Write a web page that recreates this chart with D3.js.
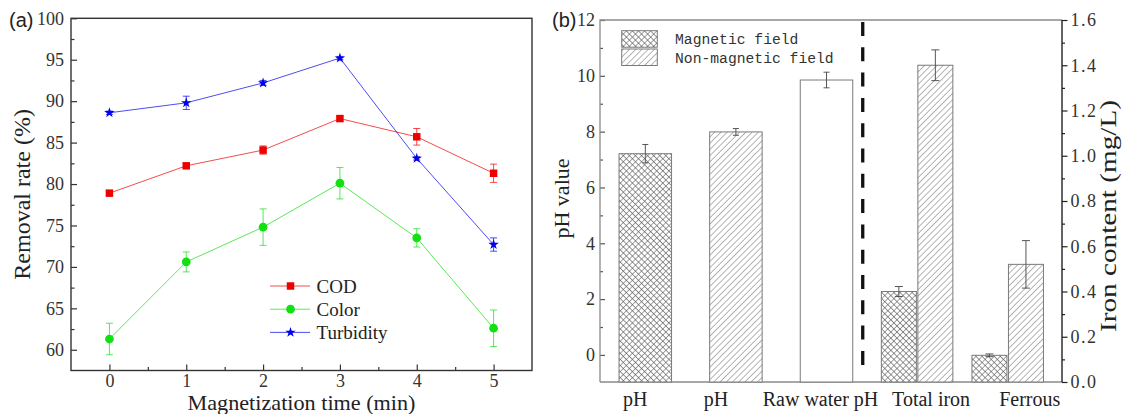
<!DOCTYPE html>
<html><head><meta charset="utf-8">
<script src="https://cdn.jsdelivr.net/npm/d3@7"></script>
<style>body{margin:0;background:#fff}svg{display:block}</style>
</head><body>
<svg id="c" width="1129" height="414"></svg>
<script>
// ---------- Panel (a) data ----------
const times = [0, 1, 2, 3, 4, 5];
const codValues = [78.9, 82.2, 84.1, 87.9, 85.7, 81.3];
const codErrors = [0.3, 0.3, 0.5, 0.3, 1.0, 1.1];
const colorValues = [61.3, 70.6, 74.8, 80.1, 73.5, 62.6];
const colorErrors = [1.9, 1.2, 2.2, 1.9, 1.1, 2.2];
const turbValues = [88.6, 89.8, 92.2, 95.2, 83.1, 72.7];
const turbErrors = [0.2, 0.8, 0.3, 0.2, 0.2, 0.8];
const seriesNames = ["COD", "Color", "Turbidity"];
const yTicksA = [60, 65, 70, 75, 80, 85, 90, 95, 100];
const xTicksA = [0, 1, 2, 3, 4, 5];

// ---------- Panel (b) data ----------
const groupKeys = ["pH_mag", "pH_non", "raw", "iron", "ferrous"];
const groupLabels = ["pH", "pH", "Raw water pH", "Total iron", "Ferrous"];
const phConditions = ["magnetic", "non", "raw"];
const phValues = [7.21, 7.99, 9.85];
const phErrors = [0.33, 0.12, 0.28];
const ironLabels = ["iron", "ferrous"];
const ironMagnetic = [0.40, 0.118];
const ironMagneticErr = [0.022, 0.006];
const ironNonMagnetic = [1.40, 0.52];
const ironNonMagneticErr = [0.068, 0.105];
const legendB = ["Magnetic field", "Non-magnetic field"];
const yTicksBLeft = [0, 2, 4, 6, 8, 10, 12];
const yTicksBRight = [0, 0.2, 0.4, 0.6, 0.8, 1.0, 1.2, 1.4, 1.6];

const svg = d3.select("#c");
const serif = "'Liberation Serif','Times New Roman',serif";

// ================= Panel (a) =================
const A = {l: 71, r: 532, t: 18.3, b: 370.5};
const xA = d3.scaleLinear().domain([-0.5, 5.5]).range([A.l, A.r]);
const yA = d3.scaleLinear().domain([57.5, 100]).range([A.b, A.t]);
const gA = svg.append("g");

function styleAxis(g, color, fs) {
  g.select(".domain").remove();
  g.selectAll(".tick line").attr("stroke", color).attr("stroke-width", 1.2);
  g.selectAll(".tick text").attr("font-family", serif).attr("font-size", fs).attr("fill", "#333");
}

// minor ticks
gA.append("g").attr("transform", `translate(0,${A.b})`)
  .call(d3.axisBottom(xA).tickValues([0.5, 1.5, 2.5, 3.5, 4.5]).tickSize(-3.5).tickFormat(""))
  .call(g => styleAxis(g, "#333", 18));
gA.append("g").attr("transform", `translate(${A.l},0)`)
  .call(d3.axisLeft(yA).tickValues(d3.range(62.5, 100, 5)).tickSize(-3.5).tickFormat(""))
  .call(g => styleAxis(g, "#333", 18));
// major ticks
gA.append("g").attr("transform", `translate(0,${A.b})`)
  .call(d3.axisBottom(xA).tickValues(xTicksA).tickSize(-6).tickPadding(3.7).tickFormat(d3.format("d")))
  .call(g => styleAxis(g, "#333", 18));
gA.append("g").attr("transform", `translate(${A.l},0)`)
  .call(d3.axisLeft(yA).tickValues(yTicksA).tickSize(-6).tickPadding(7).tickFormat(d3.format("d")))
  .call(g => styleAxis(g, "#333", 18));
gA.append("rect").attr("x", A.l).attr("y", A.t).attr("width", A.r - A.l).attr("height", A.b - A.t)
  .attr("fill", "none").attr("stroke", "#333").attr("stroke-width", 1.4);

const seriesA = [
  {name: seriesNames[0], vals: codValues, errs: codErrors, color: "#ee0000", sym: d3.symbolSquare, size: 56},
  {name: seriesNames[1], vals: colorValues, errs: colorErrors, color: "#11e011", sym: d3.symbolCircle, size: 60},
  {name: seriesNames[2], vals: turbValues, errs: turbErrors, color: "#0000ee", sym: d3.symbolStar, size: 34}
];
const line = d3.line().x(d => xA(d.t)).y(d => yA(d.v));
seriesA.forEach(s => {
  const pts = times.map((t, i) => ({t, v: s.vals[i], e: s.errs[i]}));
  const g = gA.append("g");
  g.append("path").datum(pts).attr("d", line).attr("fill", "none").attr("stroke", s.color).attr("stroke-width", 1).attr("stroke-opacity", 0.7);
  pts.forEach(p => {
    const x = xA(p.t), y1 = yA(p.v + p.e), y2 = yA(p.v - p.e);
    g.append("path").attr("d", `M${x},${y1}V${y2}M${x-3.5},${y1}H${x+3.5}M${x-3.5},${y2}H${x+3.5}`)
      .attr("stroke", s.color).attr("stroke-width", 1).attr("stroke-opacity", 0.7).attr("fill", "none");
  });
  g.selectAll(".m").data(pts).join("path")
    .attr("transform", d => `translate(${xA(d.t)},${yA(d.v)})`)
    .attr("d", d3.symbol().type(s.sym).size(s.size)).attr("fill", s.color);
});

// legend (a)
seriesA.forEach((s, i) => {
  const y = 286 + i * 23.2;
  gA.append("line").attr("x1", 270).attr("x2", 310).attr("y1", y).attr("y2", y)
    .attr("stroke", s.color).attr("stroke-width", 1).attr("stroke-opacity", 0.7);
  gA.append("path").attr("transform", `translate(290.5,${y})`).attr("d", d3.symbol().type(s.sym).size(s.size)).attr("fill", s.color);
  gA.append("text").attr("x", 316.5).attr("y", y + 6.5).text(s.name)
    .attr("font-family", serif).attr("font-size", 19).attr("fill", "#222");
});

gA.append("text").attr("transform", `translate(30,${(A.t + A.b) / 2}) rotate(-90)`).attr("text-anchor", "middle")
  .attr("font-family", serif).attr("font-size", 24).attr("fill", "#222").text("Removal rate (%)");
gA.append("text").attr("x", (A.l + A.r) / 2).attr("y", 409.6).attr("text-anchor", "middle")
  .attr("font-family", serif).attr("font-size", 20.3).attr("textLength", 228).attr("lengthAdjust", "spacingAndGlyphs")
  .attr("fill", "#222").text("Magnetization time (min)");
svg.append("text").attr("x", 9).attr("y", 27).attr("font-family", "'Liberation Sans',Arial,sans-serif")
  .attr("font-size", 20).attr("fill", "#222").text("(a)");

// ================= Panel (b) =================
const B = {l: 600, r: 1062, t: 20, b: 382};
const xB = d3.scalePoint().domain(groupKeys).range([B.l, 1053]).padding(0.5);
const yBL = d3.scaleLinear().domain([-0.97, 12]).range([B.b, B.t]);
const yBR = d3.scaleLinear().domain([0, 1.6]).range([B.b, B.t]);
const gB = svg.append("g");

const defs = svg.append("defs");
const cross = defs.append("pattern").attr("id", "cross").attr("patternUnits", "userSpaceOnUse")
  .attr("width", 4.3).attr("height", 4.3).attr("patternTransform", "rotate(45)");
cross.append("rect").attr("width", 4.3).attr("height", 4.3).attr("fill", "#fff");
cross.append("path").attr("d", "M0,0V4.3M0,0H4.3").attr("stroke", "#5a5a5a").attr("stroke-width", 1.1);
const hatch = defs.append("pattern").attr("id", "hatch").attr("patternUnits", "userSpaceOnUse")
  .attr("width", 4.4).attr("height", 4.4).attr("patternTransform", "rotate(45)");
hatch.append("rect").attr("width", 4.4).attr("height", 4.4).attr("fill", "#fff");
hatch.append("path").attr("d", "M0,0V4.4").attr("stroke", "#5a5a5a").attr("stroke-width", 0.9);
const fillFor = {magnetic: "url(#cross)", non: "url(#hatch)", raw: "#fff"};

// axes (b)
gB.append("g").attr("transform", `translate(${B.l},0)`)
  .call(d3.axisLeft(yBL).tickValues(d3.range(-1, 12, 2).filter(v => v > -0.97)).tickSize(-3).tickFormat(""))
  .call(g => styleAxis(g, "#555", 18));
gB.append("g").attr("transform", `translate(${B.l},0)`)
  .call(d3.axisLeft(yBL).tickValues(yTicksBLeft).tickSize(-5).tickPadding(5).tickFormat(d3.format("d")))
  .call(g => styleAxis(g, "#555", 18));
gB.append("g").attr("transform", `translate(${B.r},0)`)
  .call(d3.axisRight(yBR).tickValues(d3.range(0.1, 1.6, 0.2)).tickSize(3).tickFormat(""))
  .call(g => styleAxis(g, "#222", 18));
gB.append("g").attr("transform", `translate(${B.r},0)`)
  .call(d3.axisRight(yBR).tickValues(yTicksBRight).tickSize(5.5).tickPadding(3).tickFormat(d3.format(".1f")))
  .call(g => { styleAxis(g, "#222", 18); g.selectAll(".tick text").attr("letter-spacing", 1.5); });
gB.append("path").attr("d", `M${B.l},${B.b}V${B.t}H${B.r}M${B.l},${B.b}H${B.r}`)
  .attr("fill", "none").attr("stroke", "#8a8a8a").attr("stroke-width", 1.3);
gB.append("line").attr("x1", B.r).attr("x2", B.r).attr("y1", B.t).attr("y2", B.b)
  .attr("stroke", "#222").attr("stroke-width", 1.4);

function errBar(g, x, yTop, yBot, w) {
  g.append("path").attr("d", `M${x},${yTop}V${yBot}M${x-w/2},${yTop}H${x+w/2}M${x-w/2},${yBot}H${x+w/2}`)
    .attr("stroke", "#555").attr("stroke-width", 1).attr("fill", "none");
}

// pH bars (left axis)
const singleW = 52.5;
phValues.forEach((v, i) => {
  const cx = xB(groupKeys[i]);
  gB.append("rect").attr("x", cx - singleW / 2).attr("y", yBL(v)).attr("width", singleW)
    .attr("height", yBL(yBL.domain()[0]) - yBL(v))
    .attr("fill", fillFor[phConditions[i]]).attr("stroke", "#7a7a7a").attr("stroke-width", 1);
  errBar(gB, cx, yBL(v + phErrors[i]), yBL(v - phErrors[i]), 6);
});
// iron bars (right axis)
const pairW = 35, gap = 1.5;
ironLabels.forEach((k, i) => {
  const cx = xB(k);
  const bars = [
    {v: ironMagnetic[i], e: ironMagneticErr[i], fill: fillFor.magnetic, x: cx - gap / 2 - pairW},
    {v: ironNonMagnetic[i], e: ironNonMagneticErr[i], fill: fillFor.non, x: cx + gap / 2}
  ];
  bars.forEach(b => {
    gB.append("rect").attr("x", b.x).attr("y", yBR(b.v)).attr("width", pairW).attr("height", yBR(0) - yBR(b.v))
      .attr("fill", b.fill).attr("stroke", "#7a7a7a").attr("stroke-width", 1);
    errBar(gB, b.x + pairW / 2, yBR(b.v + b.e), yBR(b.v - b.e), 8);
  });
});

// separator dashed line
const sepX = xB("raw") + xB.step() * 0.4;
gB.append("line").attr("x1", sepX).attr("x2", sepX).attr("y1", B.t + 2).attr("y2", 375)
  .attr("stroke", "#111").attr("stroke-width", 3.3).attr("stroke-dasharray", "14,11.3");

// category labels (slightly offset from the bar centres, as in the original)
const labelShift = [-10, -20, -6, 14, 22];
groupKeys.forEach((k, i) => {
  gB.append("text").attr("x", xB(k) + labelShift[i]).attr("y", 406).attr("text-anchor", "middle")
    .attr("font-family", serif).attr("font-size", 20).attr("fill", "#222").text(groupLabels[i]);
});

// legend (b)
const legFills = [fillFor.magnetic, fillFor.non];
legendB.forEach((t, i) => {
  const y = 30.7 + i * 18.3;
  gB.append("rect").attr("x", 621.7).attr("y", y).attr("width", 35.6).attr("height", 16.5)
    .attr("fill", legFills[i]).attr("stroke", "#7a7a7a").attr("stroke-width", 1);
  gB.append("text").attr("x", 675).attr("y", y + 13.5).text(t)
    .attr("font-family", "'Liberation Mono','DejaVu Sans Mono',monospace").attr("font-size", 14.7).attr("fill", "#333");
});

gB.append("text").attr("transform", `translate(569,198.5) rotate(-90)`).attr("text-anchor", "middle")
  .attr("font-family", serif).attr("font-size", 22).attr("fill", "#222").text("pH value");
gB.append("text").attr("transform", `translate(1116,216) rotate(-90)`).attr("text-anchor", "middle")
  .attr("font-family", serif).attr("font-size", 24).attr("textLength", 232).attr("lengthAdjust", "spacingAndGlyphs")
  .attr("fill", "#222").text("Iron content (mg/L)");
svg.append("text").attr("x", 552).attr("y", 27).attr("font-family", "'Liberation Sans',Arial,sans-serif")
  .attr("font-size", 20).attr("fill", "#222").text("(b)");
</script>
</body></html>
